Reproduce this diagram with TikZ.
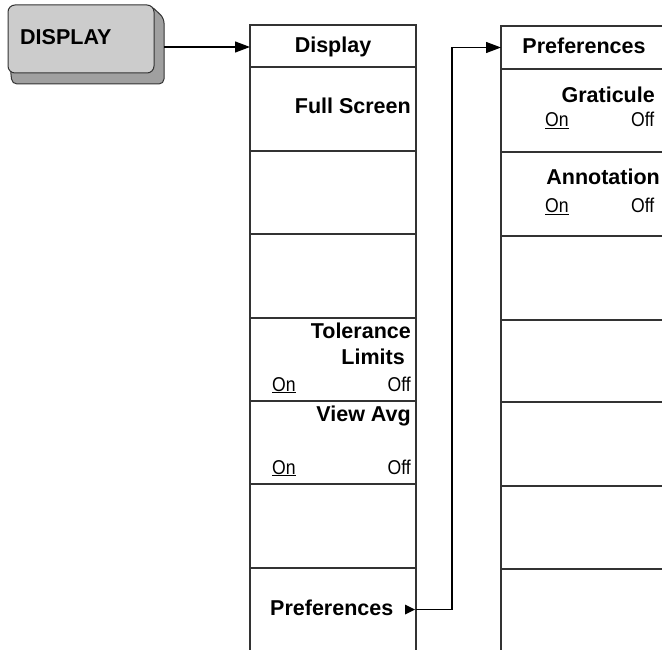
\documentclass[tikz,border=0pt]{standalone}
\usepackage{fontspec}
\setmainfont{Liberation Sans}
\newfontfamily\hpnarrow[FakeStretch=0.88]{Liberation Sans}
\usetikzlibrary{arrows.meta}
\definecolor{btnface}{HTML}{CCCCCC}
\definecolor{btnside}{HTML}{A0A0A0}
\definecolor{edge}{HTML}{333333}
\begin{document}
\begin{tikzpicture}[x=1pt,y=-1pt,
  cell/.style={draw=edge, line width=1.4pt, minimum width=166pt, inner sep=0pt, outer sep=0pt},
  boldlbl/.style={font=\fontsize{21.5}{25}\selectfont\bfseries, inner sep=0pt, text=black},
  onoff/.style={font=\fontsize{20}{24}\selectfont\hpnarrow, inner sep=0pt, text=black},
  conn/.style={draw=black, line width=1.2pt},
  bigtip/.style={-{Triangle[length=15pt,width=11pt]}}
]
\useasboundingbox (0,0) rectangle (662,650);
\clip (0,0) rectangle (662,650);

% DISPLAY hard key
\filldraw[fill=btnside, draw=edge, line width=1pt, rounded corners=5pt]
  (9,55) -- (12,84) -- (164,84) -- (164,18) -- (150,5) -- cycle;
\node[draw=edge, fill=btnface, rounded corners=7pt, line width=1pt,
  minimum width=146pt, minimum height=68pt, inner sep=0pt] (btn) at (81,39) {};
\node[boldlbl, anchor=base west] (btnT) at (20,45) {DISPLAY};
\coordinate (btnOut) at (164,47);

% left menu column
\node[cell, minimum height=42pt] (lHead) at (333,46) {};
\node[cell, minimum height=84pt] (lc1) at (333,109) {};
\node[cell, minimum height=83pt] (lc2) at (333,192.5) {};
\node[cell, minimum height=84pt] (lc3) at (333,276) {};
\node[cell, minimum height=83pt] (lc4) at (333,359.5) {};
\node[cell, minimum height=83pt] (lc5) at (333,442.5) {};
\node[cell, minimum height=84pt] (lc6) at (333,526) {};
\node[cell, minimum height=83pt] (lc7) at (333,609.5) {};

\node[boldlbl, anchor=base] (lHeadT) at (333,53) {Display};
\node[boldlbl, anchor=base east] (fullT) at (411,114) {Full Screen};
\node[boldlbl, anchor=base east] (tolT) at (411,338) {Tolerance};
\node[boldlbl, anchor=base east] (limT) at (405,364) {Limits};
\node[onoff, anchor=base west] (tolOn) at (272,391) {\underline{On}};
\node[onoff, anchor=base east] (tolOff) at (411,391) {Off};
\node[boldlbl, anchor=base east] (avgT) at (411,421) {View Avg};
\node[onoff, anchor=base west] (avgOn) at (272,474) {\underline{On}};
\node[onoff, anchor=base east] (avgOff) at (411,474) {Off};
\node[boldlbl, anchor=base west] (prefT) at (270,615) {Preferences};
\fill[black] ([xshift=-1pt]lc7.east) -- ++(-10,-5) -- ++(0,10) -- cycle;

% right menu column
\node[cell, minimum height=43pt] (rHead) at (584,47.5) {};
\node[cell, minimum height=83pt] (rc1) at (584,110.5) {};
\node[cell, minimum height=84pt] (rc2) at (584,194) {};
\node[cell, minimum height=84pt] (rc3) at (584,278) {};
\node[cell, minimum height=82pt] (rc4) at (584,361) {};
\node[cell, minimum height=84pt] (rc5) at (584,444) {};
\node[cell, minimum height=83pt] (rc6) at (584,527.5) {};
\node[cell, minimum height=83pt] (rc7) at (584,610.5) {};

\node[boldlbl, anchor=base] (rHeadT) at (584,54) {Preferences};
\node[boldlbl, anchor=base east] (gratT) at (655,103) {Graticule};
\node[onoff, anchor=base west] (gratOn) at (545,127) {\underline{On}};
\node[onoff, anchor=base west] (gratOff) at (631,127) {Off};
\node[boldlbl, anchor=base east] (annT) at (660,185) {Annotation};
\node[onoff, anchor=base west] (annOn) at (545,213) {\underline{On}};
\node[onoff, anchor=base west] (annOff) at (631,213) {Off};

% connectors
\draw[conn, bigtip] (btnOut) -- (btnOut -| lHead.west);
\draw[conn, bigtip] (lc7.east) -- ++(36,0) |- (rHead.west);
\end{tikzpicture}
\end{document}
